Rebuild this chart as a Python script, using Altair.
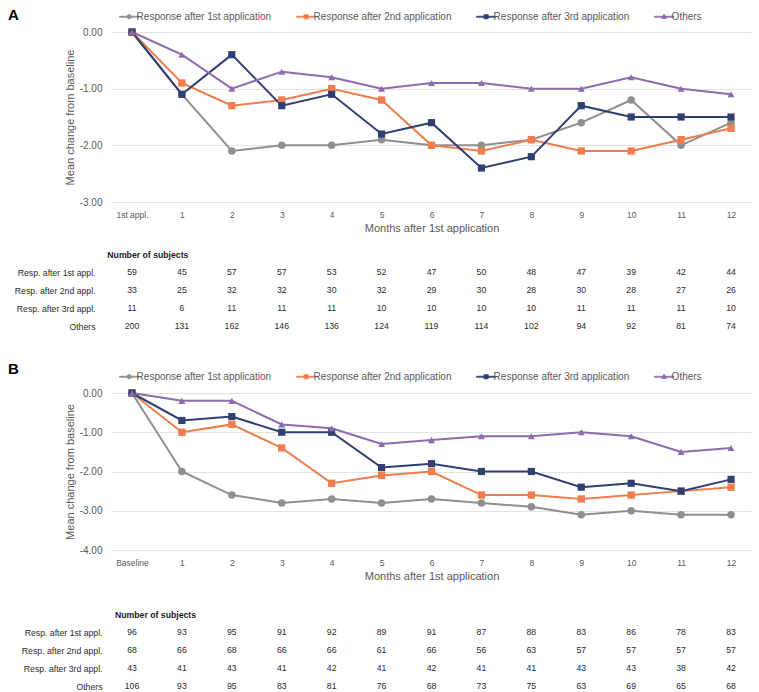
import altair as alt
import pandas as pd

SERIES = ["Response after 1st application", "Response after 2nd application",
          "Response after 3rd application", "Others"]
COLORS = ["#8f8f8f", "#ef7d4d", "#2f3f72", "#8e6aae"]
SHAPES = ["circle", "square", "square", "triangle-up"]
SIZES = [56, 49, 64, 64]
ROWS = ["Resp. after 1st appl.", "Resp. after 2nd appl.", "Resp. after 3rd appl.", "Others"]

MONTHS = ["1", "2", "3", "4", "5", "6", "7", "8", "9", "10", "11", "12"]
CATS_A = ["1st appl."] + MONTHS
CATS_B = ["Baseline"] + MONTHS

# Panel A: mean change from baseline
A_1st = [0, -1.1, -2.1, -2.0, -2.0, -1.9, -2.0, -2.0, -1.9, -1.6, -1.2, -2.0, -1.6]
A_2nd = [0, -0.9, -1.3, -1.2, -1.0, -1.2, -2.0, -2.1, -1.9, -2.1, -2.1, -1.9, -1.7]
A_3rd = [0, -1.1, -0.4, -1.3, -1.1, -1.8, -1.6, -2.4, -2.2, -1.3, -1.5, -1.5, -1.5]
A_oth = [0, -0.4, -1.0, -0.7, -0.8, -1.0, -0.9, -0.9, -1.0, -1.0, -0.8, -1.0, -1.1]

# Panel A: number of subjects
NA_1st = [59, 45, 57, 57, 53, 52, 47, 50, 48, 47, 39, 42, 44]
NA_2nd = [33, 25, 32, 32, 30, 32, 29, 30, 28, 30, 28, 27, 26]
NA_3rd = [11, 6, 11, 11, 11, 10, 10, 10, 10, 11, 11, 11, 10]
NA_oth = [200, 131, 162, 146, 136, 124, 119, 114, 102, 94, 92, 81, 74]

# Panel B: mean change from baseline
B_1st = [0, -2.0, -2.6, -2.8, -2.7, -2.8, -2.7, -2.8, -2.9, -3.1, -3.0, -3.1, -3.1]
B_2nd = [0, -1.0, -0.8, -1.4, -2.3, -2.1, -2.0, -2.6, -2.6, -2.7, -2.6, -2.5, -2.4]
B_3rd = [0, -0.7, -0.6, -1.0, -1.0, -1.9, -1.8, -2.0, -2.0, -2.4, -2.3, -2.5, -2.2]
B_oth = [0, -0.2, -0.2, -0.8, -0.9, -1.3, -1.2, -1.1, -1.1, -1.0, -1.1, -1.5, -1.4]

# Panel B: number of subjects
NB_1st = [96, 93, 95, 91, 92, 89, 91, 87, 88, 83, 86, 78, 83]
NB_2nd = [68, 66, 68, 66, 66, 61, 66, 56, 63, 57, 57, 57, 57]
NB_3rd = [43, 41, 43, 41, 42, 41, 42, 41, 41, 43, 43, 38, 42]
NB_oth = [106, 93, 95, 83, 81, 76, 68, 73, 75, 63, 69, 65, 68]

FONT = "Liberation Sans"
AXIS_GRAY = "#595959"
TEXT_DARK = "#2b2b2b"
W = 639

LINE_SEG = "M-1.6,-0.08H1.6V0.08H-1.6Z"
LEG_PATHS = [
    LINE_SEG + "M0.36,0A0.36,0.36,0,1,1,-0.36,0A0.36,0.36,0,1,1,0.36,0Z",
    LINE_SEG + "M-0.35,-0.35H0.35V0.35H-0.35Z",
    LINE_SEG + "M-0.35,-0.35H0.35V0.35H-0.35Z",
    LINE_SEG + "M0,-0.45L0.42,0.3H-0.42Z",
]


def ternary(options):
    expr = "'" + options[-1] + "'"
    for s, o in reversed(list(zip(SERIES[:-1], options[:-1]))):
        expr = "datum.value === '" + s + "' ? '" + o + "' : " + expr
    return expr


def make_legend(ly):
    return alt.Legend(
        title=None, orient="none", legendX=10.6, legendY=ly, direction="horizontal",
        labelFontSize=10, labelColor=AXIS_GRAY, labelFont=FONT, symbolSize=144,
        labelOffset=1, columnPadding=23,
        symbolType={"expr": ternary(LEG_PATHS)},
        symbolFillColor={"expr": ternary(COLORS)},
        symbolStrokeColor={"expr": ternary(COLORS)},
        symbolStrokeWidth=0.8, symbolOpacity=1,
    )


def panel(letter, cats, vals, ydom, yvals, height, ly, toff):
    recs = []
    for s, vs in zip(SERIES, vals):
        for i, (c, v) in enumerate(zip(cats, vs)):
            recs.append({"series": s, "marker": s, "cat": c, "idx": i, "value": v})
    df = pd.DataFrame(recs)
    x = alt.X("cat:N", sort=cats, scale=alt.Scale(type="point", padding=0.4),
              axis=alt.Axis(labelAngle=0, labelFontSize=8.5, labelColor=AXIS_GRAY,
                            domain=False, ticks=False, labelPadding=8, grid=False,
                            title="Months after 1st application", titleFontSize=11,
                            titleColor=AXIS_GRAY, titleFontWeight="normal", titlePadding=4))
    y = alt.Y("value:Q", scale=alt.Scale(domain=ydom, nice=False, zero=False),
              axis=alt.Axis(values=yvals, format=".2f",
                            labelExpr="replace(datum.label, '\u2212', '-')",
                            grid=True, gridColor="#e3e3e3", gridWidth=1,
                            domain=False, ticks=False, labelPadding=10, labelFontSize=10,
                            labelColor=AXIS_GRAY, title="Mean change from baseline",
                            titleFontSize=11, titleColor=AXIS_GRAY,
                            titleFontWeight="normal", titlePadding=4))
    cscale = alt.Scale(domain=SERIES, range=COLORS)
    base = alt.Chart(df).encode(x=x, y=y)
    lines = base.mark_line(strokeWidth=2).encode(
        color=alt.Color("series:N", sort=SERIES, scale=cscale, legend=make_legend(ly)),
        order=alt.Order("idx:Q"),
    )
    pts = base.mark_point(filled=True, opacity=1).encode(
        color=alt.Color("series:N", sort=SERIES, scale=cscale, legend=None),
        shape=alt.Shape("marker:N", sort=SERIES, scale=alt.Scale(range=SHAPES), legend=None),
        size=alt.Size("marker:N", sort=SERIES, scale=alt.Scale(range=SIZES), legend=None),
    )
    return alt.layer(lines, pts).properties(
        width=W, height=height,
        title=alt.TitleParams(letter, anchor="start", frame="group", dx=-104, offset=toff,
                              baseline="top", fontSize=15, fontWeight="bold",
                              color="black", font=FONT),
    )


def table(cats, counts, label_pad, tdx, toff):
    recs = []
    for r, ns in zip(ROWS, counts):
        for c, n in zip(cats, ns):
            recs.append({"row": r, "cat": c, "n": n})
    df = pd.DataFrame(recs)
    return alt.Chart(df).mark_text(fontSize=8.7, color=TEXT_DARK, font=FONT).encode(
        x=alt.X("cat:N", sort=cats, scale=alt.Scale(type="point", padding=0.4), axis=None),
        y=alt.Y("row:N", sort=ROWS, scale=alt.Scale(type="point", padding=0.25),
                axis=alt.Axis(title=None, domain=False, ticks=False, grid=False,
                              labelPadding=label_pad, labelFontSize=8.7,
                              labelColor=TEXT_DARK, labelFont=FONT)),
        text=alt.Text("n:Q"),
    ).properties(
        width=W, height=63,
        title=alt.TitleParams("Number of subjects", anchor="start", frame="group", dx=tdx,
                              offset=toff, fontSize=8.7, fontWeight="bold",
                              color="#1a1a1a", font=FONT),
    )


def indep(c):
    return c.resolve_scale(color="independent", shape="independent",
                           size="independent").resolve_legend(
        color="independent", shape="independent", size="independent")


chartA = panel("A", CATS_A, [A_1st, A_2nd, A_3rd, A_oth], [-3, 0], [0, -1, -2, -3], 170, -22, -13)
tableA = table(CATS_A, [NA_1st, NA_2nd, NA_3rd, NA_oth], 17, -4.7, 8)
chartB = panel("B", CATS_B, [B_1st, B_2nd, B_3rd, B_oth], [-4, 0], [0, -1, -2, -3, -4], 157, -23, -7)
tableB = table(CATS_B, [NB_1st, NB_2nd, NB_3rd, NB_oth], 10, 3, 8)

top = indep(alt.vconcat(chartA, tableA, spacing=16.5))
bottom = indep(alt.vconcat(chartB, tableB, spacing=28.5))
chart = indep(alt.vconcat(top, bottom, spacing=31)).properties(padding=0).configure(
    font=FONT
).configure_view(stroke=None)

chart.save("out.html", embed_options={"renderer": "svg", "actions": False})
